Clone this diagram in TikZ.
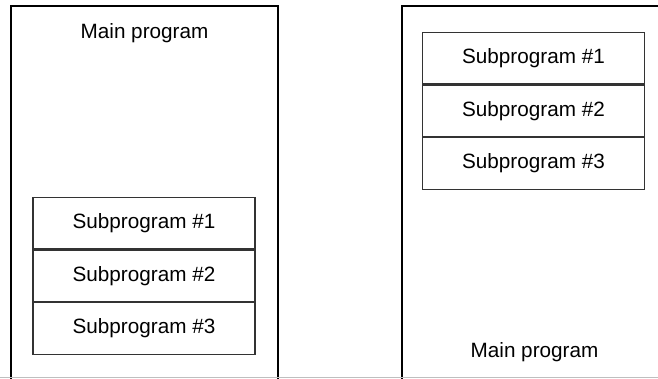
\documentclass[tikz,border=0pt]{standalone}
\usepackage{fontspec}
\setmainfont{Liberation Sans}
\usetikzlibrary{positioning}

\tikzset{
  program/.style={draw=black, line width=2pt, minimum width=267pt, minimum height=420pt, inner sep=0pt},
  subprog/.style={draw=black!80, line width=1.2pt, minimum width=222pt, minimum height=51.5pt, inner sep=0pt, font=\fontsize{20.7}{24}\selectfont},
  caption/.style={font=\fontsize{20.7}{24}\selectfont, inner sep=0pt}
}

\begin{document}
\begin{tikzpicture}[x=1pt, y=-1pt]
  \useasboundingbox (0,0) rectangle (658,378);
  \clip (0,0) rectangle (658,378);
  % left: main program above its subprograms
  \node[program, anchor=north] (lmain) at (144.5,5) {};
  \node[caption] (ltitle) at (144.5,33) {Main program};
  \node[subprog] (lsub1) at (144,223) {Subprogram \#1};
  \node[subprog, below=0pt of lsub1] (lsub2) {Subprogram \#2};
  \node[subprog, below=0pt of lsub2] (lsub3) {Subprogram \#3};
  % right: subprograms above the main program
  \node[program, anchor=north] (rmain) at (535.5,5) {};
  \node[subprog] (rsub1) at (533.5,58) {Subprogram \#1};
  \node[subprog, below=0pt of rsub1] (rsub2) {Subprogram \#2};
  \node[subprog, below=0pt of rsub2] (rsub3) {Subprogram \#3};
  \node[caption] (rtitle) at (534.5,352) {Main program};
  % bottom edge
  \coordinate (bl) at (0,377.5);
  \coordinate (br) at (658,377.5);
  \draw[black!25, line width=1pt] (bl) -- (br);
\end{tikzpicture}
\end{document}
